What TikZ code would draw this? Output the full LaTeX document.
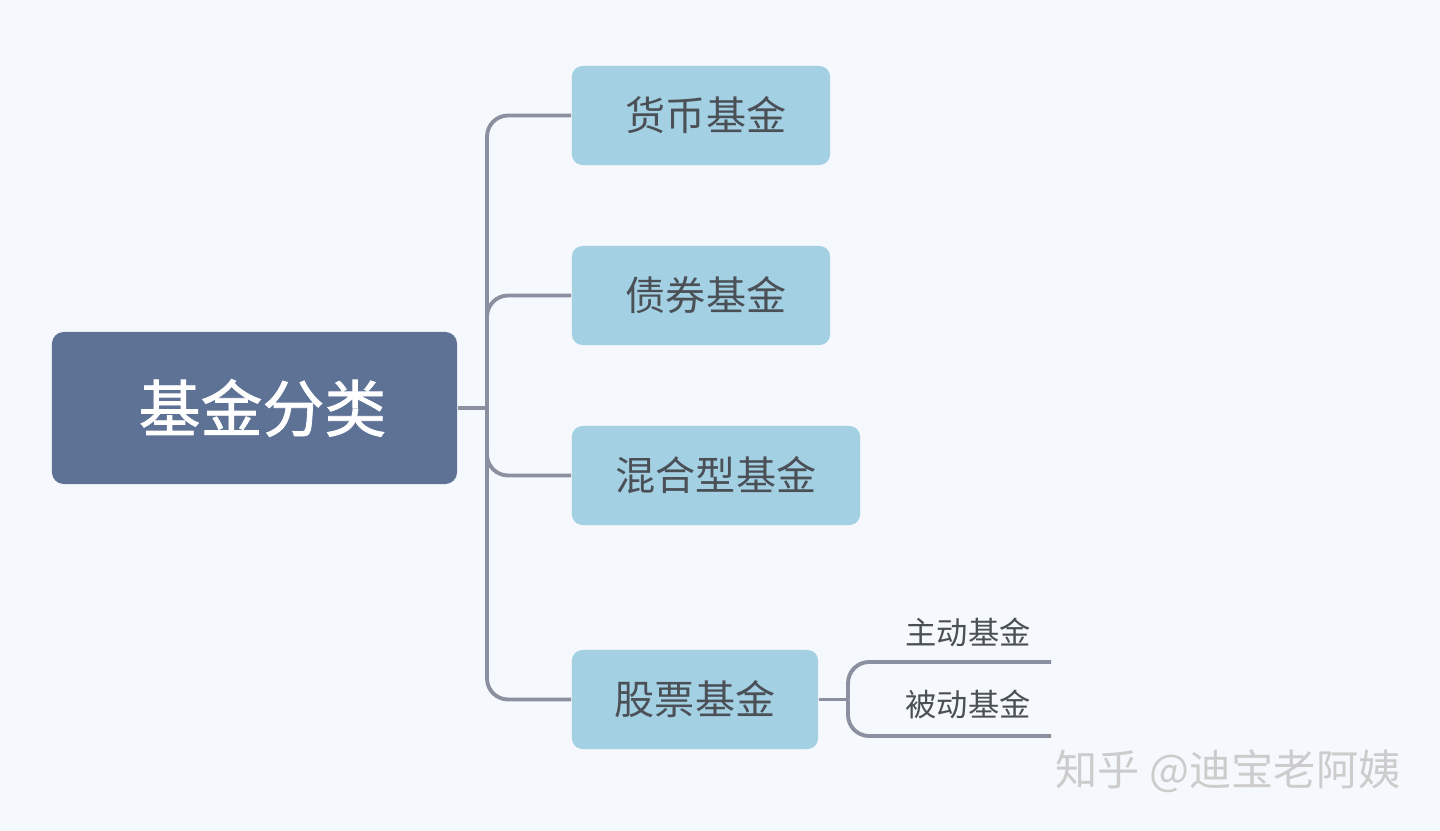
\documentclass[tikz,border=0pt]{standalone}
\usepackage{fontspec}
\usepackage{xcolor}
\usepackage{tikz}
\usetikzlibrary{positioning,calc}
\newfontfamily\cjk{Noto Sans CJK SC}
\newfontfamily\cjkheavy[FakeBold=1.2]{Noto Sans CJK SC}
\definecolor{bgpaper}{HTML}{F5F8FC}
\definecolor{rootfill}{HTML}{5E7296}
\definecolor{leaffill}{HTML}{A3D0E3}
\definecolor{linkgray}{HTML}{8A90A0}
\definecolor{textgray}{HTML}{4B5057}

\begin{document}
\begin{tikzpicture}[
    x=0.01cm, y=-0.01cm,
    rootbox/.style={rectangle, fill=rootfill, rounded corners=3.4pt, minimum width=4.05cm, minimum height=1.52cm, font=\cjkheavy\fontsize{17.6}{20}\selectfont, text=white},
    leafbox/.style={rectangle, fill=leaffill, rounded corners=3pt, minimum height=0.99cm, font=\cjk\fontsize{11.4}{14}\selectfont, text=textgray},
    sublabel/.style={font=\cjk\fontsize{8.9}{11}\selectfont, text=textgray},
    link/.style={draw=linkgray, line width=1.1pt, rounded corners=6pt}
]
    \useasboundingbox (0,0) rectangle (1440,831);
    \fill [bgpaper] (0,0) rectangle (1440,831);

    \node [rootbox] (root) at (254.5,408) {\hspace{0.16cm}基金分类};
    \node [leafbox, minimum width=2.58cm] (money) at (701,115.5) {\hspace{0.1cm}货币基金};
    \node [leafbox, minimum width=2.58cm] (bond) at (701,295.5) {\hspace{0.1cm}债券基金};
    \node [leafbox, minimum width=2.88cm] (mixed) at (716,475.5) {混合型基金};
    \node [leafbox, minimum width=2.46cm] (stock) at (695,699.5) {股票基金};

    \coordinate (trunk) at (487,408);
    \draw [link] (root.east) -- (trunk);
    \draw [link] (trunk) |- (money.west);
    \draw [link] (trunk) |- (bond.west);
    \draw [link] (trunk) |- (mixed.west);
    \draw [link] (trunk) |- (stock.west);

    % second level
    \node [sublabel] (active) at (968,632) {主动基金};
    \node [sublabel] (passive) at (968,704) {被动基金};
    \coordinate (fork) at (848,699.5);
    \coordinate (activeend) at (1051,662);
    \coordinate (passiveend) at (1051,736);
    \draw [link] (stock.east) -- (fork);
    \draw [link] (fork) |- (activeend);
    \draw [link] (fork) |- (passiveend);

    \node [font=\cjk\fontsize{12}{14}\selectfont, text=gray!40] (mark) at (1228,771) {知乎 @迪宝老阿姨};
\end{tikzpicture}
\end{document}
